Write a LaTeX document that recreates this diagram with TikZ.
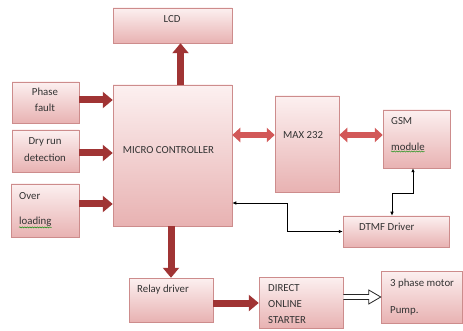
\documentclass[tikz,border=0pt]{standalone}
\usepackage{fontspec}
\setmainfont{Carlito}
\usetikzlibrary{arrows.meta,shadows,calc,decorations.pathmorphing}
\definecolor{boxtop}{RGB}{252,240,240}
\definecolor{boxbot}{RGB}{232,178,178}
\definecolor{boxline}{RGB}{205,140,140}
\definecolor{darkarrow}{RGB}{160,52,52}
\definecolor{lightarrow}{RGB}{210,88,88}
\begin{document}
\begin{tikzpicture}[x=1pt,y=-1pt,
  blk/.style={draw=boxline,line width=0.5pt,top color=boxtop,bottom color=boxbot,
    drop shadow={shadow xshift=1.2pt,shadow yshift=-1.2pt,opacity=0.35}},
  lbl/.style={font=\fontsize{10.8}{12}\selectfont,text=black!80,inner sep=0pt},
  lbll/.style={lbl,anchor=west},
  bigarrow/.style={draw=darkarrow,line width=7pt,-{Triangle[length=10pt,width=16pt]}},
  dblarrow/.style={draw=lightarrow,line width=6pt,{Triangle[length=8pt,width=14pt]}-{Triangle[length=8pt,width=14pt]}},
  thinarrow/.style={draw=black,line width=0.7pt,{Latex[length=4pt,width=3.5pt]}-{Latex[length=4pt,width=3.5pt]}},
  hollow/.style={draw=black!85,line width=0.8pt,fill=white},
  squiggle/.style={draw=green!55!black,line width=0.4pt,decorate,decoration={snake,amplitude=0.6pt,segment length=2.5pt}}]
\useasboundingbox (0,0) rectangle (463,331);
\fill[white] (0,0) rectangle (463,331);

% boxes
\node[blk,minimum width=119,minimum height=35,inner sep=0] (lcd) at (172.5,25.5) {};
\node[blk,minimum width=119,minimum height=141,inner sep=0] (mc) at (172.5,155.5) {};
\node[blk,minimum width=67,minimum height=41,inner sep=0] (pf) at (45.5,102.5) {};
\node[blk,minimum width=67,minimum height=42,inner sep=0] (dr) at (45.5,151) {};
\node[blk,minimum width=68,minimum height=53,inner sep=0] (ol) at (45,210.5) {};
\node[blk,minimum width=64,minimum height=96,inner sep=0] (max) at (307,144) {};
\node[blk,minimum width=67,minimum height=58,inner sep=0] (gsm) at (416.5,139) {};
\node[blk,minimum width=106,minimum height=31,inner sep=0] (dtmf) at (396,231.5) {};
\node[blk,minimum width=84,minimum height=44,inner sep=0] (relay) at (171,300) {};
\node[blk,minimum width=84,minimum height=51,inner sep=0] (dos) at (301,302.5) {};
\node[blk,minimum width=81,minimum height=52,inner sep=0] (motor) at (421.5,297) {};

% labels
\node[lbl] (lcdt) at (172,19) {LCD};
\node[lbl] (mct) at (168.5,150) {MICRO CONTROLLER};
\node[lbl] (pft1) at (45,92) {Phase};
\node[lbl] (pft2) at (45,108) {fault};
\node[lbl] (drt1) at (45,142) {Dry run};
\node[lbl] (drt2) at (45,158) {detection};
\node[lbll] (olt1) at (19,196) {Over};
\node[lbll] (olt2) at (19,222) {loading};
\node[lbll] (maxt) at (283,135) {MAX 232};
\node[lbll] (gsmt1) at (391,121) {GSM};
\node[lbll] (gsmt2) at (391,147) {module};
\node[lbll] (dtmft) at (359,227) {DTMF Driver};
\node[lbll] (relayt) at (137,290) {Relay driver};
\node[lbll] (dost1) at (268,288) {DIRECT};
\node[lbll] (dost2) at (268,304) {ONLINE};
\node[lbll] (dost3) at (268,320) {STARTER};
\node[lbll] (motort1) at (390,284) {3 phase motor};
\node[lbll] (motort2) at (390,311) {Pump.};

\draw[squiggle] ([yshift=-0.5pt]olt2.south west) -- ([yshift=-0.5pt]olt2.south east);
\draw[squiggle] ([yshift=-0.5pt]gsmt2.south west) -- ([yshift=-0.5pt]gsmt2.south east);

% thick arrows
\draw[bigarrow] ([xshift=8]mc.north) -- ([xshift=8]lcd.south);
\draw[bigarrow] (pf.east |- 0,100) -- (mc.west |- 0,100);
\draw[bigarrow] (dr.east |- 0,153) -- (mc.west |- 0,153);
\draw[bigarrow] (ol.east |- 0,204) -- (mc.west |- 0,204);
\draw[bigarrow] (mc.south -| relay) -- (relay.north);
\draw[bigarrow] (relay.east |- 0,303) -- (dos.west |- 0,303);
\draw[dblarrow] (mc.east |- maxt) -- (max.west |- maxt);
\draw[dblarrow] (max.east |- maxt) -- (gsm.west |- maxt);

% thin connectors
\coordinate (g1) at (413,193);
\coordinate (g2) at (392,193);
\coordinate (d2) at (287,203);
\draw[thinarrow] (gsm.south -| g1) -- (g1) -- (g2) -- (dtmf.north -| g2);
\draw[thinarrow] (dtmf.west) -| (d2) -- (mc.east |- d2);

% hollow arrow
\coordinate (ha) at (dos.east |- motor);
\coordinate (hb) at (motor.west);
\draw[hollow,line join=miter] ($(ha)+(0,-2.5)$) -- ($(hb)+(-12,-2.5)$) -- ($(hb)+(-12,-7)$)
  -- (hb) -- ($(hb)+(-12,7)$) -- ($(hb)+(-12,2.5)$) -- ($(ha)+(0,2.5)$);
\end{tikzpicture}
\end{document}
